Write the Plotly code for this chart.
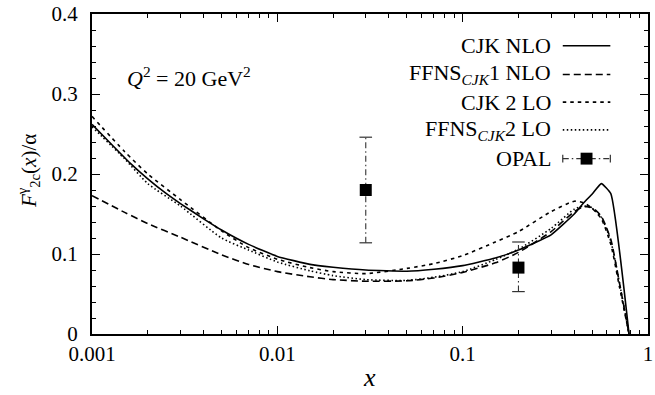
import plotly.graph_objects as go

# ---------------- data ----------------
x_cjk_nlo = [0.001, 0.0013, 0.0016, 0.002, 0.0025, 0.003, 0.004, 0.005, 0.007, 0.01, 0.015, 0.02,
             0.03, 0.05, 0.07, 0.1, 0.15, 0.2, 0.3, 0.4, 0.45, 0.5, 0.56, 0.63, 0.79]
y_cjk_nlo = [0.262, 0.235, 0.214, 0.194, 0.176, 0.163, 0.144, 0.130, 0.112, 0.097, 0.087, 0.0835,
             0.080, 0.0785, 0.081, 0.0855, 0.095, 0.105, 0.124, 0.150, 0.164, 0.175, 0.188, 0.1755, 0.0]

x_grid = [0.001, 0.0015, 0.002, 0.003, 0.005, 0.007, 0.01, 0.015, 0.02, 0.03, 0.05, 0.07,
          0.1, 0.15, 0.2, 0.3, 0.4, 0.45, 0.5, 0.56, 0.63, 0.7, 0.79]
y_ffns1_nlo = [0.173, 0.152, 0.138, 0.121, 0.099, 0.087, 0.078, 0.0715, 0.068, 0.066, 0.0665, 0.070,
               0.077, 0.089, 0.102, 0.128, 0.153, 0.159, 0.158, 0.147, 0.118, 0.065, 0.0]
y_cjk2_lo = [0.272, 0.228, 0.200, 0.168, 0.129, 0.108, 0.0935, 0.083, 0.078, 0.0755, 0.082, 0.088,
             0.098, 0.115, 0.128, 0.153, 0.166, 0.164, 0.157, 0.144, 0.112, 0.060, 0.0]
y_ffns2_lo = [0.259, 0.219, 0.188, 0.160, 0.120, 0.105, 0.090, 0.079, 0.073, 0.068, 0.067, 0.071,
              0.078, 0.093, 0.106, 0.132, 0.156, 0.160, 0.157, 0.146, 0.116, 0.065, 0.0]

opal_x = [0.03, 0.2]
opal_y = [0.180, 0.083]
opal_err_up = [0.066, 0.032]
opal_err_dn = [0.066, 0.030]

legend_labels = ["CJK NLO", "FFNS<sub><i>CJK</i></sub>1 NLO", "CJK 2 LO",
                 "FFNS<sub><i>CJK</i></sub>2 LO", "OPAL"]
x_tick_vals = [0.001, 0.01, 0.1, 1]
x_tick_text = ["0.001", "0.01", "0.1", "1"]

FONT = "'Liberation Serif', 'DejaVu Serif', 'Times New Roman', serif"
LW = 1.6
dashes = ["solid", "7px,4px", "3.5px,4px", "1.5px,2.5px"]

fig = go.Figure()
fig.add_trace(go.Scatter(x=x_cjk_nlo, y=y_cjk_nlo, mode="lines",
                         line=dict(color="black", width=LW, dash=dashes[0], shape="spline", smoothing=0.4),
                         showlegend=False))
for yy, d in zip([y_ffns1_nlo, y_cjk2_lo, y_ffns2_lo], dashes[1:]):
    fig.add_trace(go.Scatter(x=x_grid, y=yy, mode="lines",
                             line=dict(color="black", width=LW, dash=d, shape="spline", smoothing=0.6),
                             showlegend=False))

# OPAL error bars (dash-dot) with caps
for xi, yi, up, dn in zip(opal_x, opal_y, opal_err_up, opal_err_dn):
    fig.add_trace(go.Scatter(x=[xi, xi], y=[yi - dn, yi + up], mode="lines+markers",
                             line=dict(color="#333", width=1.1, dash="6px,3px,1.5px,3px"),
                             marker=dict(symbol="line-ew", size=9, line=dict(width=1.2, color="#333")),
                             showlegend=False))
fig.add_trace(go.Scatter(x=opal_x, y=opal_y, mode="markers",
                         marker=dict(symbol="square", size=12, color="black"), showlegend=False))

# ---------------- layout ----------------
L, R, T, B = 92, 2, 11, 61
W, H = 655, 395
pw, ph = W - L - R, H - T - B

def xp(px):
    return (px - L) / pw

def yp(py):
    return (H - B - py) / ph

anns = []
shapes = []
rows = [43, 72, 100, 128, 157]
for i, (lab, ry) in enumerate(zip(legend_labels, rows)):
    anns.append(dict(x=xp(557), y=yp(ry), xref="paper", yref="paper", text=lab, showarrow=False,
                     xanchor="right", yanchor="middle", font=dict(family=FONT, size=22, color="black")))
    if i < 4:
        shapes.append(dict(type="line", xref="paper", yref="paper", x0=xp(567), x1=xp(615),
                           y0=yp(ry), y1=yp(ry), line=dict(color="black", width=LW, dash=dashes[i])))
    else:
        shapes.append(dict(type="line", xref="paper", yref="paper", x0=xp(567), x1=xp(615),
                           y0=yp(ry), y1=yp(ry), line=dict(color="#333", width=1.1, dash="6px,3px,1.5px,3px")))
        for cx in (567, 615):
            shapes.append(dict(type="line", xref="paper", yref="paper", x0=xp(cx), x1=xp(cx),
                               y0=yp(ry - 4), y1=yp(ry + 4), line=dict(color="#333", width=1.2)))
        shapes.append(dict(type="rect", xref="paper", yref="paper", x0=xp(585), x1=xp(597),
                           y0=yp(ry + 6), y1=yp(ry - 6), fillcolor="black", line=dict(width=0)))

anns.append(dict(x=xp(125), y=yp(75), xref="paper", yref="paper",
                 text="<i>Q</i><sup>2</sup> = 20 GeV<sup>2</sup>", showarrow=False,
                 xanchor="left", yanchor="middle", font=dict(family=FONT, size=22, color="black")))
anns.append(dict(x=xp(28), y=yp(170), xref="paper", yref="paper",
                 text="<i>F</i><sup>γ</sup><sub>2c</sub>(<i>x</i>)/α", showarrow=False, textangle=-90,
                 xanchor="center", yanchor="middle", font=dict(family=FONT, size=21, color="black")))
anns.append(dict(x=xp(372), y=yp(378), xref="paper", yref="paper",
                 text="<i>x</i>", showarrow=False,
                 xanchor="center", yanchor="middle", font=dict(family=FONT, size=26, color="black")))

minor_x = [m * 10 ** e for e in (-3, -2, -1) for m in range(2, 10)]

fig.update_layout(
    width=W, height=H, margin=dict(l=L, r=R, t=T, b=B, pad=0),
    paper_bgcolor="white", plot_bgcolor="white",
    font=dict(family=FONT, size=21, color="black"),
    annotations=anns, shapes=shapes, showlegend=False,
    xaxis=dict(type="log", range=[-3, 0], tickmode="array", tickvals=x_tick_vals, ticktext=x_tick_text,
               ticks="inside", ticklen=8, tickwidth=1.3, tickcolor="black",
               showline=True, linecolor="black", linewidth=2, mirror="ticks",
               showgrid=False, zeroline=False, ticklabeloverflow="allow",
               minor=dict(tickmode="array", tickvals=minor_x, ticks="inside", ticklen=4,
                          tickwidth=1.1, tickcolor="black", showgrid=False),
               tickfont=dict(family=FONT, size=21), ticklabelstandoff=0),
    yaxis=dict(range=[0, 0.4], tickmode="linear", tick0=0, dtick=0.1,
               ticks="inside", ticklen=8, tickwidth=1.3, tickcolor="black",
               showline=True, linecolor="black", linewidth=2, mirror="ticks",
               showgrid=False, zeroline=False, ticklabeloverflow="allow",
               minor=dict(tickmode="linear", tick0=0, dtick=0.02, ticks="inside", ticklen=4,
                          tickwidth=1.1, tickcolor="black", showgrid=False),
               tickfont=dict(family=FONT, size=21), ticklabelstandoff=8),
)

fig.write_html("out.html")
